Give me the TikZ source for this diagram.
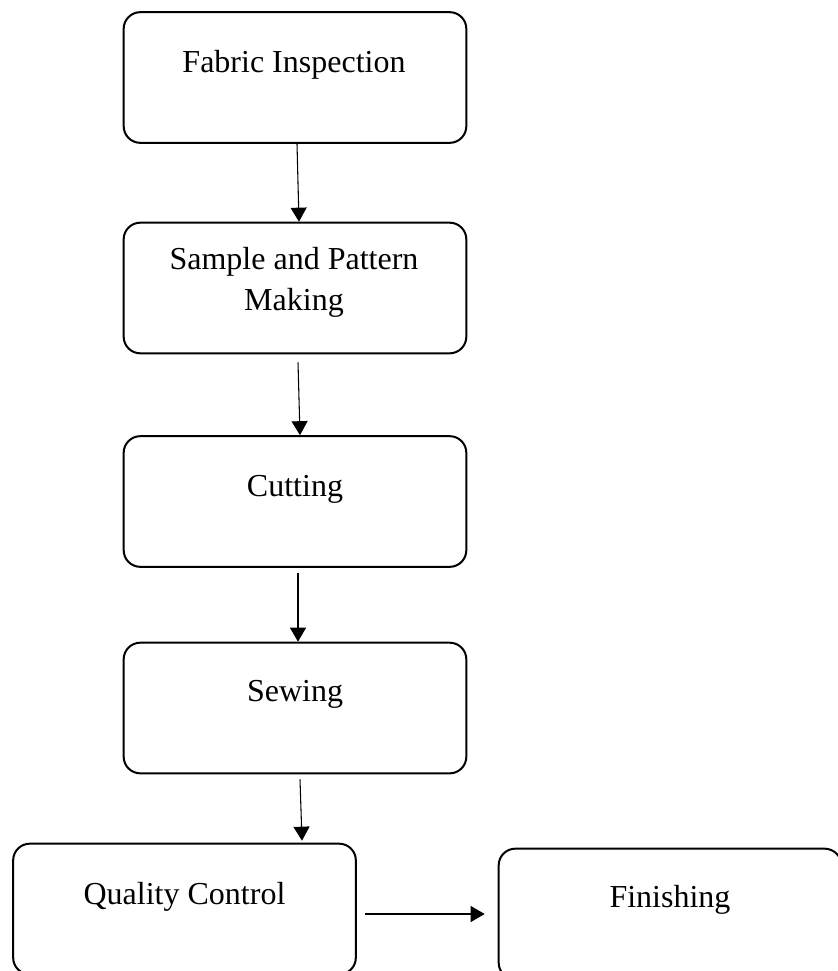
\documentclass[tikz,border=0pt]{standalone}
\usepackage{fontspec}
\setmainfont{Liberation Serif}
\usetikzlibrary{arrows.meta,calc}

\tikzset{
  stage/.style={draw, line width=1.5pt, rounded corners=12.5pt,
    minimum width=257pt, minimum height=98pt, inner sep=0pt},
  caption/.style={anchor=base, inner sep=0pt, align=center,
    font=\fontsize{24}{30.75}\selectfont},
  flow/.style={line width=0.8pt, -{Triangle[length=10.5pt,width=12pt]}}
}

\begin{document}
\begin{tikzpicture}[x=0.75pt, y=-0.75pt]
  \useasboundingbox (0,0) rectangle (838,971);

  % process boxes
  \node[stage] (fab) at (295,77.5) {};
  \node[stage] (spm) at (295,288) {};
  \node[stage] (cut) at (295,501.5) {};
  \node[stage] (sew) at (295,708) {};
  \node[stage] (qc)  at (184.5,909) {};
  \node[stage] (fin) at (670,914) {};

  % box texts (base anchor sits on the last line)
  \node[caption] (fabt) at ($(fab.north)+(-1,61)$) {Fabric Inspection};
  \node[caption] (spmt) at ($(spm.north)+(-1,89)$) {Sample and Pattern\\Making};
  \node[caption] (cutt) at ($(cut.north)+(0,61)$) {Cutting};
  \node[caption] (sewt) at ($(sew.north)+(0,60)$) {Sewing};
  \node[caption] (qct)  at ($(qc.north)+(0,62)$) {Quality Control};
  \node[caption] (fint) at ($(fin.north)+(0,60)$) {Finishing};

  % connectors
  \draw[flow] ($(fab.south)+(2,0)$) -- ($(spm.north)+(4,0)$);
  \draw[flow] ($(spm.south)+(3,8)$) -- ($(cut.north)+(5,0)$);
  \draw[flow] ($(cut.south)+(3,5)$) -- ($(sew.north)+(3,0)$);
  \draw[flow] ($(sew.south)+(5,5)$) -- ($(qc.north)+(117.5,-2)$);
  \draw[flow] ($(qc.east)+(8,5)$) -- ($(fin.west)+(-13,0)$);
\end{tikzpicture}
\end{document}
